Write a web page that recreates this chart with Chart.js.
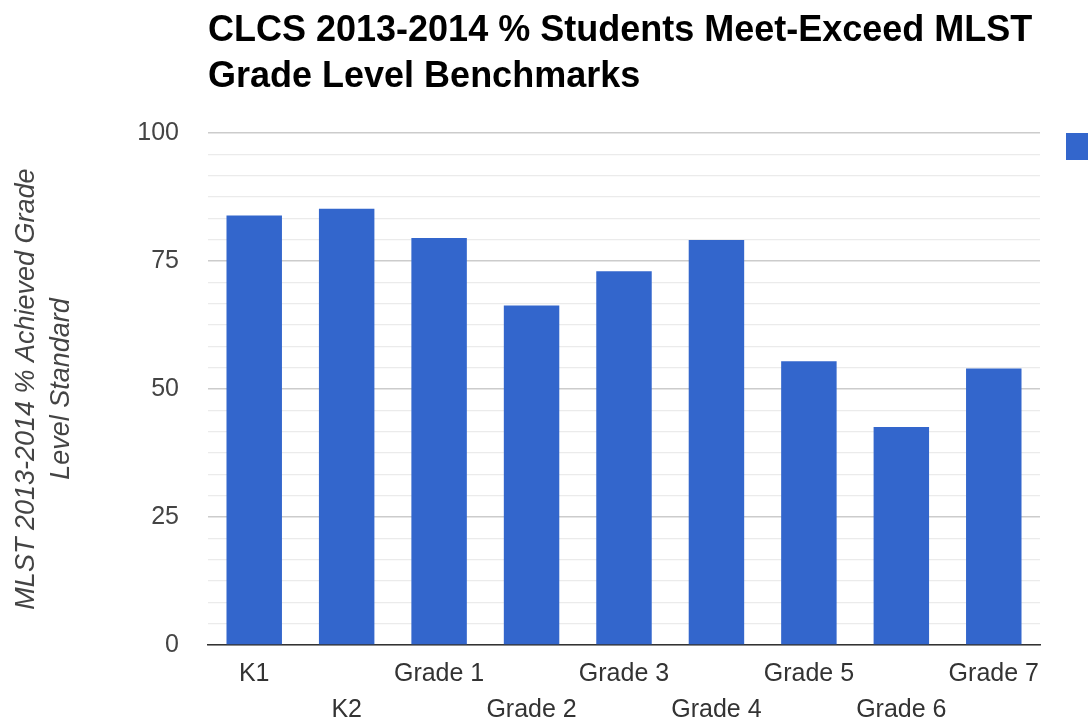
<!DOCTYPE html>
<html>
<head>
<meta charset="utf-8">
<script src="https://cdn.jsdelivr.net/npm/chart.js@4"></script>
<style>
    body { margin: 0; background: #ffffff; overflow: hidden; }
    #wrap { width: 1088px; height: 724px; overflow: hidden; }
</style>
</head>
<body>
<div id="wrap"><canvas id="graficoGrados" width="1088" height="724"></canvas></div>
<script>
// datos
const grados = ['K1', 'K2', 'Grade 1', 'Grade 2', 'Grade 3', 'Grade 4', 'Grade 5', 'Grade 6', 'Grade 7'];
const porcentajes = [83.9, 85.2, 79.5, 66.3, 73.0, 79.1, 55.4, 42.6, 54.0];
const ticksPrincipales = [0, 25, 50, 75, 100];
const divisionesMenores = 6;

const tituloGrafico = ['CLCS 2013-2014 % Students Meet-Exceed MLST', 'Grade Level Benchmarks'];
const tituloEjeY = ['MLST 2013-2014 % Achieved Grade', 'Level Standard'];
const nombreSerie = 'MLST 2013-2014 % Achieved Grade Level Standard';

const fuente = '"Liberation Sans", Arial, sans-serif';

// etiquetas alternadas en dos filas como en el original
const etiquetasX = grados.map((g, i) => i % 2 ? ['', g] : g);

function construirTicks(axis) {
    const paso = (ticksPrincipales[1] - ticksPrincipales[0]) / divisionesMenores;
    const ticks = [];
    const total = (ticksPrincipales.length - 1) * divisionesMenores;
    for (let i = 0; i <= total; i++) {
        ticks.push({ value: ticksPrincipales[0] + i * paso });
    }
    axis.ticks = ticks;
}

const ctx = document.getElementById('graficoGrados').getContext('2d');
new Chart(ctx, {
    type: 'bar',
    data: {
        labels: etiquetasX,
        datasets: [{
            label: nombreSerie,
            data: porcentajes,
            backgroundColor: '#3366cc',
            borderColor: '#3366cc',
            borderWidth: 0,
            categoryPercentage: 1,
            barPercentage: 0.6
        }]
    },
    options: {
        responsive: false,
        animation: false,
        layout: { padding: 0 },
        scales: {
            x: {
                grid: { display: false, drawTicks: false },
                border: { display: true, color: '#333333', width: 1.5 },
                ticks: {
                    autoSkip: false,
                    maxRotation: 0,
                    padding: 11,
                    color: '#333333',
                    font: { family: fuente, size: 25, lineHeight: 1.44 }
                },
                afterFit: function (scale) { scale.height = 79; }
            },
            y: {
                min: ticksPrincipales[0],
                max: ticksPrincipales[ticksPrincipales.length - 1],
                afterBuildTicks: construirTicks,
                grid: {
                    drawTicks: false,
                    color: (c) => c.index % divisionesMenores === 0 ? '#cccccc' : '#ebebeb',
                    lineWidth: (c) => c.index % divisionesMenores === 0 ? 1.5 : 1.2
                },
                border: { display: false },
                ticks: {
                    autoSkip: false,
                    padding: 29,
                    color: '#444444',
                    font: { family: fuente, size: 25 },
                    callback: function (value, index) {
                        return index % divisionesMenores === 0 ? String(Math.round(value)) : '';
                    }
                },
                title: {
                    display: true,
                    text: tituloEjeY,
                    color: '#444444',
                    padding: { top: 8.5, bottom: 0 },
                    font: { family: fuente, size: 27, style: 'italic', lineHeight: '35px' }
                },
                afterFit: function (scale) { scale.width = 208; }
            },
            // eje vacio para dejar el hueco entre el area y la leyenda
            hueco: {
                type: 'linear',
                position: 'right',
                grid: { display: false },
                border: { display: false },
                ticks: { display: false },
                afterFit: function (scale) { scale.width = 26; }
            }
        },
        plugins: {
            title: {
                display: true,
                text: tituloGrafico,
                align: 'start',
                fullSize: false,
                color: '#000000',
                padding: { top: 8, bottom: 33 },
                font: { family: fuente, size: 36, weight: 'bold', lineHeight: '46px' }
            },
            legend: {
                position: 'right',
                align: 'start',
                fullSize: false,
                maxWidth: 22,
                labels: {
                    boxWidth: 26,
                    boxHeight: 27,
                    padding: 0,
                    color: '#222222',
                    font: { family: fuente, size: 22 }
                }
            },
            tooltip: { enabled: false }
        }
    }
});
</script>
</body>
</html>
